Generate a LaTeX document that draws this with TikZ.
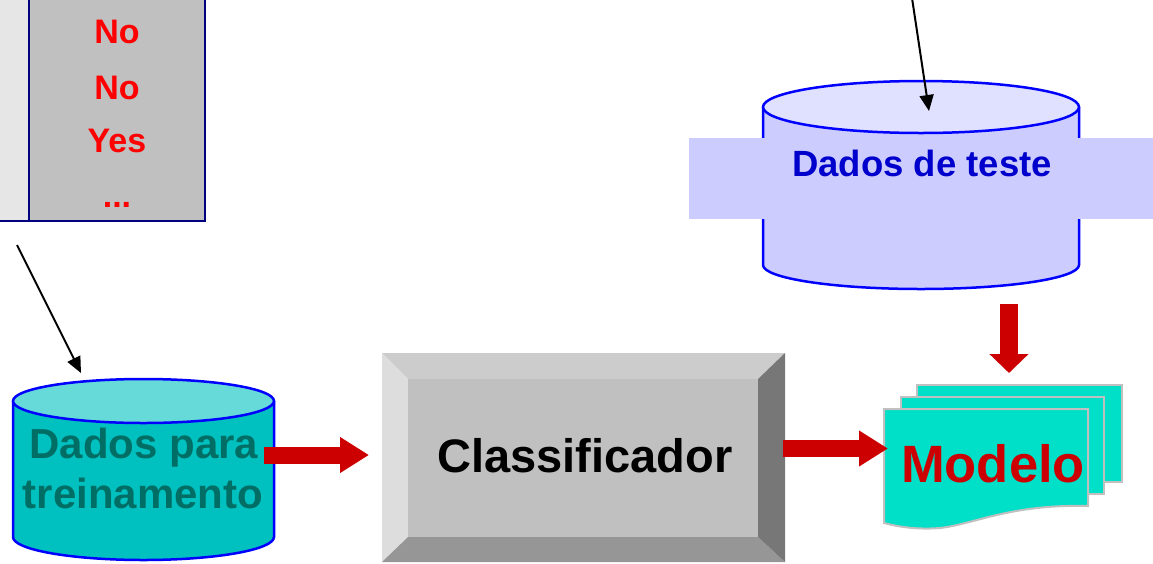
\documentclass[tikz,border=0pt]{standalone}
\usepackage{fontspec}
\setmainfont{Liberation Sans}
\usetikzlibrary{arrows.meta}

\definecolor{tblnavy}{RGB}{0,0,128}
\definecolor{tbllight}{RGB}{230,230,230}
\definecolor{tblgray}{RGB}{192,192,192}
\definecolor{valred}{RGB}{255,0,0}
\definecolor{flowred}{RGB}{204,0,0}
\definecolor{cylblue}{RGB}{0,0,255}
\definecolor{trainbody}{RGB}{0,192,192}
\definecolor{traintop}{RGB}{102,217,217}
\definecolor{traintext}{RGB}{0,110,100}
\definecolor{testbody}{RGB}{204,204,255}
\definecolor{testtop}{RGB}{224,224,255}
\definecolor{testtext}{RGB}{0,0,204}
\definecolor{docfill}{RGB}{0,224,200}
\definecolor{docedge}{RGB}{192,192,192}
\definecolor{bevtop}{RGB}{204,204,204}
\definecolor{bevleft}{RGB}{221,221,221}
\definecolor{bevface}{RGB}{192,192,192}
\definecolor{bevbottom}{RGB}{150,150,150}
\definecolor{bevright}{RGB}{119,119,119}

\begin{document}
\begin{tikzpicture}[x=1pt,y=-1pt,
  lbl/.style={font=\bfseries\fontsize{#1}{#1}\selectfont, inner sep=0pt, anchor=base},
  cyledge/.style={draw=cylblue, line width=2.5pt},
  docshape/.style={fill=docfill, draw=docedge, line width=2pt},
  thinarrow/.style={draw=black, line width=2pt, -{Triangle[length=16pt,width=14pt]}},
  blockarrow/.style={draw=flowred, line width=17pt, -{Triangle[length=29pt,width=34pt]}},
  downarrow/.style={draw=flowred, line width=18pt, -{Triangle[length=19pt,width=38pt]}},
]
\useasboundingbox (0,0) rectangle (1153,563);

\begin{scope}
\clip (0,0) rectangle (1153,563);

% ---- data table (class column) ----
\fill[tbllight] (-5,-5) rectangle (29,221);
\fill[tblgray] (29,-5) rectangle (205,221);
\draw[tblnavy, line width=2pt] (29,-5) -- (29,221);
\draw[tblnavy, line width=2pt] (205,-5) -- (205,221);
\draw[tblnavy, line width=2pt] (-5,221) -- (206,221);
\node[lbl=34, text=valred] (v1) at (117,43) {No};
\node[lbl=34, text=valred] (v2) at (117,99) {No};
\node[lbl=34, text=valred] (v3) at (117,152) {Yes};
\node[lbl=34, text=valred] (v4) at (117,207) {...};

% ---- training data cylinder ----
\fill[trainbody] (13,401) -- (13,537) arc[start angle=180, end angle=0, x radius=130.5, y radius=23] -- (274,401) -- cycle;
\draw[cyledge] (13,401) -- (13,537) arc[start angle=180, end angle=0, x radius=130.5, y radius=23] -- (274,401);
\filldraw[cyledge, fill=traintop] (143.5,401) ellipse[x radius=130.5, y radius=22];
\node[lbl=42, text=traintext] (train1) at (144,458) {Dados para};
\node[lbl=42, text=traintext] (train2) at (143,508) {treinamento};

% ---- test data cylinder ----
\fill[testbody] (763,107) -- (763,265) arc[start angle=180, end angle=0, x radius=158, y radius=24] -- (1079,107) -- cycle;
\draw[cyledge] (763,107) -- (763,265) arc[start angle=180, end angle=0, x radius=158, y radius=24] -- (1079,107);
\filldraw[cyledge, fill=testtop] (921,107) ellipse[x radius=158, y radius=26];
\fill[testbody] (689,138) rectangle (1160,219);
\node[lbl=36.5, text=testtext] (test) at (922,176) {Dados de teste};

% ---- classifier (bevelled button) ----
\fill[bevtop] (382,353) -- (785,353) -- (758,379) -- (408,379) -- cycle;
\fill[bevleft] (382,353) -- (408,379) -- (408,537) -- (382,562) -- cycle;
\fill[bevbottom] (382,562) -- (408,537) -- (758,537) -- (785,562) -- cycle;
\fill[bevright] (785,353) -- (758,379) -- (758,537) -- (785,562) -- cycle;
\fill[bevface] (408,379) rectangle (758,537);
\node[lbl=47, text=black] (clf) at (585,472) {Classificador};

% ---- model (stacked documents) ----
\filldraw[docshape] (917,385) rectangle (1122,482);
\filldraw[docshape] (901,397) rectangle (1104,494);
\filldraw[docshape] (884,409) -- (1088,409) -- (1088,506)
  .. controls (1010,504) and (975,524) .. (940,528)
  .. controls (915,530) and (895,526) .. (884,523) -- cycle;
\node[lbl=52.5, text=flowred] (model) at (993,482) {Modelo};

% ---- connectors ----
\coordinate (tblout) at (17,245);
\coordinate (trainin) at (81,373);
\coordinate (srcout) at (912,-2);
\coordinate (testin) at (929,111);
\coordinate (trainout) at (264,455);
\coordinate (clfin) at (369,455);
\coordinate (clfout) at (783,448.5);
\coordinate (modelin) at (888,448.5);
\coordinate (testout) at (1009,304);
\coordinate (modeltop) at (1009,373);

\draw[thinarrow] (tblout) -- (trainin);
\draw[thinarrow] (srcout) -- (testin);
\draw[blockarrow] (trainout) -- (clfin);
\draw[blockarrow] (clfout) -- (modelin);
\draw[downarrow] (testout) -- (modeltop);
\end{scope}
\end{tikzpicture}
\end{document}
